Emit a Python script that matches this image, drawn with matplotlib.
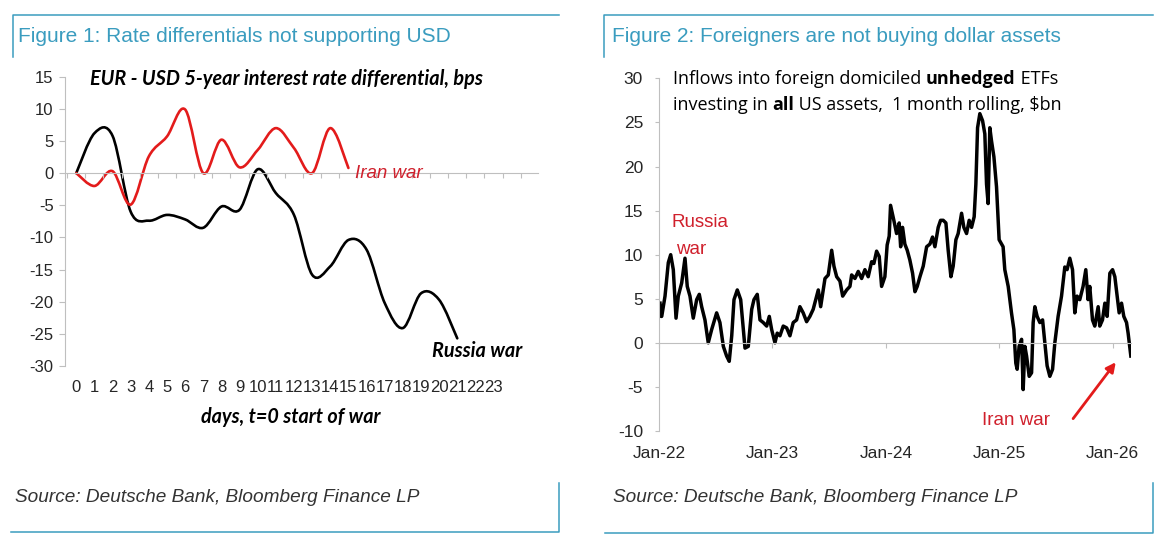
import numpy as np
import matplotlib
matplotlib.use("Agg")
import matplotlib.pyplot as plt
from matplotlib.path import Path
from matplotlib.patches import PathPatch

plt.rcParams["font.family"] = ["Liberation Sans", "DejaVu Sans"]
plt.rcParams["axes.unicode_minus"] = False

# Figure 1: EUR - USD 5y rate differential (bps), days after start of war
days_russia = list(range(22))
russia_war = [0, 6.2, 5.8, -6.0, -7.4, -6.5, -7.2, -8.5, -5.2, -5.7, 0.6,
              -3.1, -6.5, -15.8, -14.5, -10.4, -11.9, -20.2, -24.1, -18.7, -19.7, -25.7]
days_iran = list(range(16))
iran_war = [0, -2.0, 0.3, -4.9, 2.6, 5.7, 9.9, 0, 5.2, 0.9, 3.6, 7.0, 3.9, 0, 7.0, 0.8]
day_ticks = list(range(24))
left_yticks = [15, 10, 5, 0, -5, -10, -15, -20, -25, -30]

# Figure 2: ETF inflows, 1m rolling $bn; time in years after Jan-2022
flow_years = [
    0.009, 0.018, 0.024, 0.053, 0.082, 0.103, 0.126, 0.150, 0.170, 0.200,
    0.229, 0.249, 0.273, 0.302, 0.332, 0.355, 0.376, 0.405, 0.434, 0.464,
    0.508, 0.537, 0.567, 0.596, 0.619, 0.641, 0.661, 0.690, 0.720, 0.743,
    0.758, 0.787, 0.817, 0.837, 0.866, 0.890, 0.919, 0.949, 0.972, 0.993,
    1.022, 1.042, 1.066, 1.095, 1.125, 1.154, 1.183, 1.213, 1.242, 1.271,
    1.301, 1.330, 1.359, 1.389, 1.404, 1.425, 1.448, 1.463, 1.492, 1.522,
    1.542, 1.566, 1.595, 1.619, 1.654, 1.683, 1.698, 1.727, 1.756, 1.786,
    1.815, 1.844, 1.874, 1.894, 1.918, 1.941, 1.962, 1.991,
    2.011, 2.029, 2.041, 2.070, 2.094, 2.117, 2.130, 2.147, 2.167, 2.188,
    2.211, 2.235, 2.256, 2.276, 2.300, 2.329, 2.359, 2.388, 2.411, 2.432,
    2.461, 2.482, 2.505, 2.529, 2.549, 2.573, 2.593, 2.617, 2.637, 2.667,
    2.687, 2.711, 2.734, 2.755, 2.778, 2.793, 2.808, 2.828, 2.852, 2.872,
    2.887, 2.901, 2.916, 2.931, 2.952, 2.975, 2.998,
    3.033, 3.048, 3.078, 3.107, 3.128, 3.145, 3.157, 3.174, 3.196, 3.210,
    3.225, 3.240, 3.263, 3.284, 3.298, 3.313, 3.333, 3.357, 3.381, 3.401,
    3.421, 3.445, 3.469, 3.489, 3.518, 3.548, 3.577, 3.597, 3.621, 3.645,
    3.665, 3.685, 3.709, 3.738, 3.762, 3.782, 3.797, 3.821, 3.841, 3.871,
    3.885, 3.909, 3.930, 3.950, 3.974, 3.998, 4.018, 4.038, 4.056, 4.077,
    4.097, 4.121, 4.135, 4.150, 4.159,
]
flow_bn = [
    4.5, 3.0, 3.0, 5.3, 9.1, 10.0, 8.3, 2.8, 5.3, 6.8,
    9.6, 6.4, 5.3, 2.8, 4.9, 5.5, 4.1, 2.6, 0.0, 1.5,
    3.4, 2.3, -0.4, -1.5, -2.1, 0.8, 4.9, 6.0, 4.9, 1.5,
    -0.6, -0.4, 3.8, 4.9, 5.5, 2.6, 2.3, 1.9, 3.0, 1.5,
    0.0, 1.1, 0.8, 1.9, 1.7, 0.8, 2.3, 2.6, 4.1, 3.4,
    2.4, 3.0, 3.8, 5.3, 6.0, 4.1, 6.0, 7.3, 7.7, 10.5,
    8.7, 7.5, 7.0, 5.3, 6.0, 6.4, 7.7, 7.3, 8.1, 7.3,
    8.3, 7.5, 9.2, 9.0, 10.4, 9.8, 6.4, 7.5,
    11.1, 12.1, 15.6, 13.9, 12.4, 13.6, 10.9, 13.1, 11.2, 10.5,
    9.4, 7.9, 5.8, 6.4, 7.5, 8.7, 10.9, 11.2, 12.0, 10.9,
    13.1, 13.9, 13.9, 13.6, 10.5, 7.5, 8.7, 11.7, 12.4, 14.7,
    13.1, 12.4, 13.9, 13.1, 14.3, 18.0, 24.4, 26.0, 25.2, 23.7,
    18.0, 15.8, 24.4, 22.9, 21.1, 17.7, 11.7,
    10.9, 8.3, 6.4, 3.4, 1.5, -2.3, -3.0, -0.4, 0.4, -5.3,
    -0.4, -1.5, -3.8, -3.4, 2.3, 4.1, 3.0, 2.3, 2.6, 0.0,
    -2.6, -3.8, -3.0, 0.0, 3.0, 5.3, 8.6, 8.3, 9.6, 8.3,
    3.4, 5.3, 4.9, 6.4, 8.3, 4.9, 6.4, 2.6, 1.9, 4.1,
    1.9, 2.6, 4.5, 3.0, 7.9, 8.3, 7.5, 5.3, 3.4, 4.5,
    3.0, 2.3, 1.1, -0.5, -1.5,
]
year_ticks = [2022, 2023, 2024, 2025, 2026]
year_labels = ["Jan-22", "Jan-23", "Jan-24", "Jan-25", "Jan-26"]
right_yticks = [30, 25, 20, 15, 10, 5, 0, -5, -10]

teal = "#3a9cbf"
grey = "#bfbfbf"
red_line = "#e31b1b"
red_text = "#d0202c"
tick_col = "#262626"


def smooth_path(x, y):
    # Excel-style smoothed line as cubic Bezier segments (Catmull-Rom)
    x = np.asarray(x, float)
    y = np.asarray(y, float)
    n = len(x)
    verts = [(x[0], y[0])]
    codes = [Path.MOVETO]
    for i in range(n - 1):
        a = max(i - 1, 0)
        d = min(i + 2, n - 1)
        c1 = (x[i] + (x[i + 1] - x[a]) / 6, y[i] + (y[i + 1] - y[a]) / 6)
        c2 = (x[i + 1] - (x[d] - x[i]) / 6, y[i + 1] - (y[d] - y[i]) / 6)
        verts += [c1, c2, (x[i + 1], y[i + 1])]
        codes += [Path.CURVE4] * 3
    return Path(verts, codes)


fig = plt.figure(figsize=(11.59, 5.47), dpi=100)
fig.patch.set_facecolor("white")

# decoration layer in pixel units
deco = fig.add_axes([0, 0, 1, 1], zorder=-1)
deco.set_xlim(0, 1159)
deco.set_ylim(547, 0)
deco.axis("off")
for xs, ys in [([13, 13, 559], [57, 15, 15]), ([604, 604, 1153], [57, 15, 15]),
               ([11, 559, 559], [532, 532, 483]), ([605, 1153, 1153], [533, 533, 483])]:
    deco.plot(xs, ys, color=teal, lw=1.1)
deco.text(18, 37, "Figure 1: Rate differentials not supporting USD", fontsize=15,
          color=teal, va="center")
deco.text(612, 37, "Figure 2: Foreigners are not buying dollar assets", fontsize=15,
          color=teal, va="center")
for x0 in (15, 613):
    deco.text(x0, 497, "Source: Deutsche Bank, Bloomberg Finance LP", fontsize=13.7,
              style="italic", color="#333333", va="center")

# ---------- left chart ----------
ax1 = fig.add_axes([0.0564, 0.3309, 0.4078, 0.5289])
ax1.set_facecolor("none")
ax1.set_xlim(-0.6, 25.45)
ax1.set_ylim(-30, 15)
for s in ("top", "right"):
    ax1.spines[s].set_visible(False)
ax1.spines["left"].set_color(grey)
ax1.spines["bottom"].set_color(grey)
ax1.spines["bottom"].set_position(("data", 0))
ax1.set_yticks(left_yticks)
ax1.set_xticks(np.arange(-0.5, 25, 1))
ax1.tick_params(axis="x", labelbottom=False, length=3.5, color=grey)
ax1.tick_params(axis="y", length=4, color=grey, pad=4.5, labelsize=12, labelcolor=tick_col)

ax1.add_patch(PathPatch(smooth_path(days_russia, russia_war), fill=False,
                        ec="black", lw=1.9, capstyle="round", joinstyle="round"))
ax1.add_patch(PathPatch(smooth_path(days_iran, iran_war), fill=False,
                        ec=red_line, lw=1.9, capstyle="round", joinstyle="round"))

sec1 = ax1.secondary_xaxis("bottom")
sec1.set_xticks(day_ticks)
sec1.tick_params(length=0, pad=10, labelsize=12, labelcolor=tick_col)
sec1.spines["bottom"].set_visible(False)

ax1.text(11.8, -0.176, "days, t=0 start of war", fontsize=14.2, fontweight="bold",
         style="italic", family="Lato", ha="center", va="center",
         transform=ax1.get_xaxis_transform())
ax1.text(0.78, 14.7, "EUR - USD 5-year interest rate differential, bps", fontsize=14.3,
         fontweight="bold", style="italic", family="Lato", va="center")
ax1.text(15.39, -0.1, "Iran war", fontsize=13.5, style="italic", color=red_text, va="center")
ax1.text(19.63, -27.6, "Russia war", fontsize=14.3, fontweight="bold", style="italic",
         family="Lato", va="center")

# ---------- right chart ----------
ax2 = fig.add_axes([0.5686, 0.2121, 0.4072, 0.6446])
ax2.set_facecolor("none")
ax2.set_xlim(2022.0, 2026.16)
ax2.set_ylim(-10, 30)
for s in ("top", "right"):
    ax2.spines[s].set_visible(False)
ax2.spines["left"].set_color(grey)
ax2.spines["bottom"].set_color(grey)
ax2.spines["bottom"].set_position(("data", 0))
ax2.set_yticks(right_yticks)
ax2.set_xticks(year_ticks)
ax2.tick_params(axis="x", labelbottom=False, length=3.5, color=grey)
ax2.tick_params(axis="y", length=3, color=grey, pad=8.5, labelsize=12.5, labelcolor=tick_col)

ax2.plot(np.array(flow_years) + 2022, flow_bn, color="black", lw=2.5,
         solid_joinstyle="round")

sec2 = ax2.secondary_xaxis("bottom")
sec2.set_xticks(year_ticks)
sec2.set_xticklabels(year_labels)
sec2.tick_params(length=0, pad=11, labelsize=12.5, labelcolor=tick_col)
sec2.spines["bottom"].set_visible(False)

ax2.text(2022.11, 13.6, "Russia", fontsize=13.5, color=red_text, va="center")
ax2.text(2022.15, 10.6, "war", fontsize=13.5, color=red_text, va="center")
ax2.text(2025.145, -8.77, "Iran war", fontsize=13.5, color=red_text, va="center", ha="center")
ax2.annotate("", xy=(2026.026, -2.2), xytext=(2025.65, -8.6),
             arrowprops=dict(arrowstyle="-|>", color=red_line, lw=2, mutation_scale=14,
                             shrinkA=0, shrinkB=0))

# header with mixed weights
renderer = fig.canvas.get_renderer()
hdr_font = "Open Sans"


def text_width(s, weight, size, family):
    t = deco.text(0, 0, s + "|", fontsize=size, fontweight=weight, family=family)
    b = deco.text(0, 0, "|", fontsize=size, fontweight=weight, family=family)
    w = t.get_window_extent(renderer).width - b.get_window_extent(renderer).width
    t.remove()
    b.remove()
    return w


header = [
    (79, [("Inflows into foreign domiciled ", "normal"), ("unhedged", "bold"), (" ETFs", "normal")]),
    (105, [("investing in ", "normal"), ("all", "bold"), (" US assets,  1 month rolling, $bn", "normal")]),
]
for y0, parts in header:
    x0 = 673
    for s, w in parts:
        deco.text(x0, y0, s, fontsize=13, fontweight=w, family=hdr_font, va="center")
        x0 += text_width(s, w, 13, hdr_font)

fig.savefig("out.png", dpi=100)
